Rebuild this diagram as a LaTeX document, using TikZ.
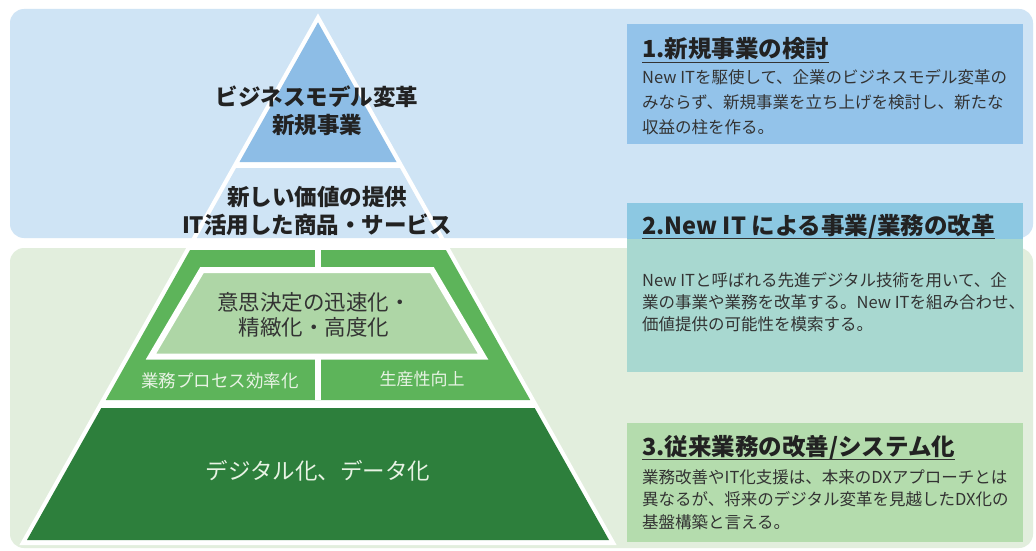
\documentclass[tikz,border=0pt]{standalone}
\usepackage{fontspec}
\newfontfamily\jp{Noto Sans CJK JP}
\definecolor{bandblue}{HTML}{CFE4F5}
\definecolor{bandgreen}{HTML}{E2EEDD}
\definecolor{topblue}{HTML}{8DBDE6}
\definecolor{boxblue}{HTML}{93C3EA}
\definecolor{boxbluetwo}{HTML}{8CC8E2}
\definecolor{boxteal}{HTML}{A8D8D0}
\definecolor{boxgreen}{HTML}{B4DCAD}
\definecolor{midgreen}{HTML}{5DB45A}
\definecolor{lightgreen}{HTML}{AED6A6}
\definecolor{darkgreen}{HTML}{2D7F3C}
\definecolor{inktext}{HTML}{222222}
\definecolor{bodytext}{HTML}{333333}
\definecolor{paletext}{HTML}{E8F3E4}
\tikzset{
  band/.style={rounded corners=14pt, draw=none},
  tier/.style={draw=none},
  lbl/.style={inner sep=0pt, align=center, text=inktext},
  ttl/.style={inner sep=0pt, anchor=base west, text=inktext, font=\jp\bfseries\fontsize{23.5}{28}\selectfont},
  body/.style={inner sep=0pt, anchor=north west, align=left, text=bodytext},
  uline/.style={line width=1.6pt, draw=bodytext},
}
\begin{document}
\begin{tikzpicture}[x=1pt,y=-1pt]
\useasboundingbox (0,0) rectangle (1036,551);
\fill[white] (0,0) rectangle (1036,551);
% bands
\fill[band, bandblue] (10,9) rectangle (1033,238);
\fill[band, bandgreen] (10,248) rectangle (1033,548);
% pyramid white base
\fill[white] (318,13.4) -- (616.6,545) -- (19.4,545) -- cycle;
% tiers
\fill[tier, topblue] (318,22.3) -- (396.5,162) -- (239.5,162) -- cycle;
\fill[tier, bandblue] (236.1,168) -- (399.9,168) -- (439.2,238) -- (196.8,238) -- cycle;
\fill[tier, midgreen] (190.1,250) -- (445.9,250) -- (530.2,400) -- (105.8,400) -- cycle;
\draw[white, line width=6pt] (318,250) -- (318,400);
\filldraw[fill=lightgreen, draw=white, line width=6pt, line join=miter] (202,270) -- (432,270) -- (483,356.5) -- (151,356.5) -- cycle;
\fill[tier, darkgreen] (101.3,408) -- (534.7,408) -- (609,540) -- (27,540) -- cycle;
% pyramid labels
\node[lbl, font=\jp\bfseries\fontsize{22.5}{28}\selectfont] (p1) at (317,111) {ビジネスモデル変革\\新規事業};
\node[lbl, font=\jp\bfseries\fontsize{22.5}{28}\selectfont] (p2) at (317,211) {新しい価値の提供\\IT活用した商品・サービス};
\node[lbl, text=bodytext, font=\jp\fontsize{21.5}{25}\selectfont] (p3) at (314,314.5) {意思決定の迅速化・\\精緻化・高度化};
\node[lbl, text=paletext, font=\jp\fontsize{17.5}{20}\selectfont] (p4) at (220,381) {業務プロセス効率化};
\node[lbl, text=paletext, font=\jp\fontsize{17}{20}\selectfont] (p5) at (422,379) {生産性向上};
\node[lbl, text=paletext, font=\jp\fontsize{22.5}{26}\selectfont] (p6) at (318,471) {デジタル化、データ化};
% right boxes
\fill[boxblue] (627,24) rectangle (1023,144);
\fill[boxbluetwo] (627,203) rectangle (1023,239);
\fill[boxteal] (627,239) rectangle (1023,372);
\fill[boxgreen] (627,423) rectangle (1023,542);
% box texts
\node[ttl] (h1) at (642,58) {1.新規事業の検討};
\draw[uline] ([yshift=-4.5pt]h1.base west) -- ([yshift=-4.5pt]h1.base east);
\node[body, font=\jp\fontsize{16.5}{25}\selectfont] (b1) at (642,69) {New ITを駆使して、企業のビジネスモデル変革の\\みならず、新規事業を立ち上げを検討し、新たな\\収益の柱を作る。};
\node[ttl] (h2) at (642,234) {2.New IT による事業/業務の改革};
\draw[uline] ([yshift=-4.5pt]h2.base west) -- ([yshift=-4.5pt]h2.base east);
\node[body, font=\jp\fontsize{16.5}{22}\selectfont] (b2) at (642,272.5) {New ITと呼ばれる先進デジタル技術を用いて、企\\業の事業や業務を改革する。New ITを組み合わせ、\\価値提供の可能性を模索する。};
\node[ttl] (h3) at (642,455) {3.従来業務の改善/システム化};
\draw[uline] ([yshift=-4.5pt]h3.base west) -- ([yshift=-4.5pt]h3.base east);
\node[body, font=\jp\fontsize{16.5}{22.5}\selectfont] (b3) at (642,469) {業務改善やIT化支援は、本来のDXアプローチとは\\異なるが、将来のデジタル変革を見越したDX化の\\基盤構築と言える。};
\end{tikzpicture}
\end{document}
